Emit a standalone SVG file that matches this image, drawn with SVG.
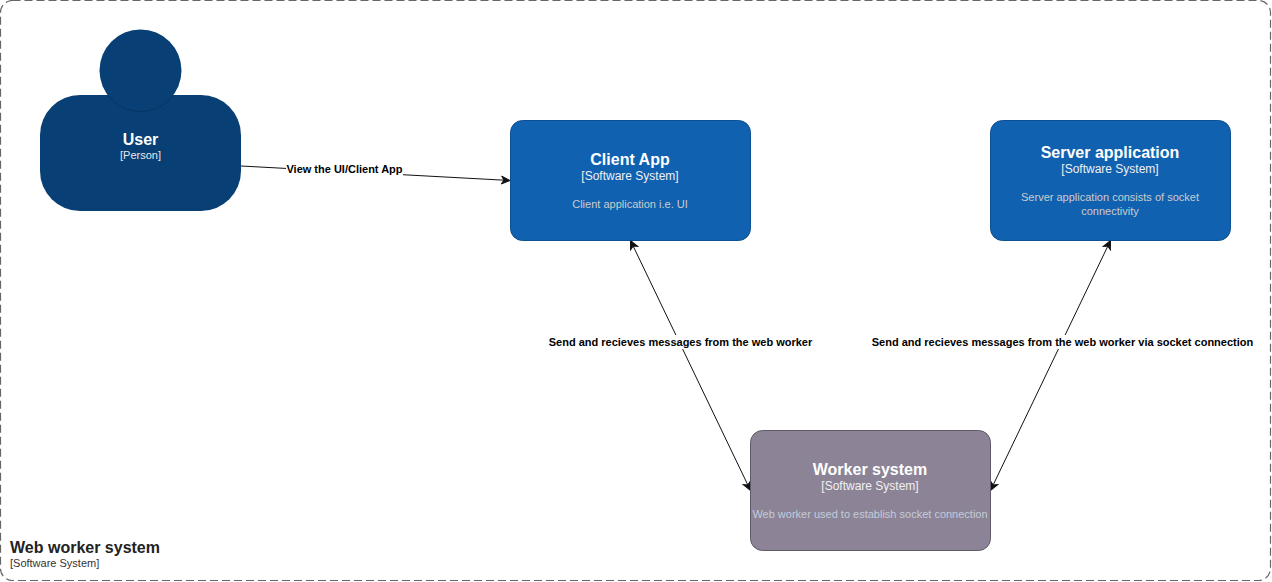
<svg xmlns="http://www.w3.org/2000/svg" width="1272" height="582" viewBox="0 0 1272 582">
<style>
text{font-family:"Liberation Sans",Arial,sans-serif;text-anchor:middle}
.t{font-size:16px;font-weight:bold;fill:#fff}
.s{font-size:12px;fill:#f0f0f0}
.d{font-size:11px;fill:#cccccc}
.l{font-size:11px;font-weight:bold;fill:#000}
.c{fill:none;stroke:#111;stroke-width:1}
.b{stroke:#0d5091;fill:#1061b0}
.lb{fill:#fff;stroke:none}
</style>
<defs>
<marker id="a" viewBox="0 0 10 10" refX="9.500" refY="5" markerWidth="10" markerHeight="9.500" orient="auto-start-reverse" markerUnits="userSpaceOnUse"><path d="M0.500 0.800L9.500 5L0.500 9.200L3 5Z" fill="#111" stroke="#111" stroke-width="1"/></marker>
</defs>
<rect width="1272" height="582" fill="#fff"/>
<g id="boundary">
<rect x="0.500" y="0.500" width="1270" height="580" rx="12" ry="12" fill="#fff" stroke="#666" stroke-width="1.200" stroke-dasharray="8 4"/>
<text x="10" y="553" style="text-anchor:start;font-size:16px;font-weight:bold;fill:#222">Web worker system</text>
<text x="10" y="567" style="text-anchor:start;font-size:11px;fill:#333">[Software System]</text>
</g>
<g id="connectors">
<path class="c" marker-end="url(#a)" d="M241 166L510 180.500"/>
<path class="c" marker-start="url(#a)" marker-end="url(#a)" d="M630.500 240.500L750.500 490.500"/>
<path class="c" marker-start="url(#a)" marker-end="url(#a)" d="M1110.500 240.500L990.500 490.500"/>
<rect class="lb" x="286" y="162" width="117" height="14"/>
<text class="l" x="344.500" y="173">View the UI/Client App</text>
<rect class="lb" x="548" y="335" width="265" height="14"/>
<text class="l" x="680.500" y="346">Send and recieves messages from the web worker</text>
<rect class="lb" x="871" y="335" width="383" height="14"/>
<text class="l" x="1062.500" y="346">Send and recieves messages from the web worker via socket connection</text>
</g>
<g id="user">
<rect x="40" y="95" width="201" height="116" rx="40" ry="40" fill="#083f75"/>
<circle cx="140.500" cy="70.500" r="41" fill="#083f75"/>
<path d="M107 94A41 41 0 0 0 174 94" fill="none" stroke="#000" stroke-opacity="0.7" stroke-width="0.700" stroke-dasharray="1 2"/>
<text class="t" x="140.500" y="145">User</text>
<text x="140.500" y="159" style="font-size:11px;fill:#e8e8e8">[Person]</text>
</g>
<g id="client-app">
<rect class="b" x="510.500" y="120.500" width="240" height="120" rx="12" ry="12"/>
<text class="t" x="630" y="165">Client App</text>
<text class="s" x="630" y="180">[Software System]</text>
<text class="d" x="630" y="208">Client application i.e. UI</text>
</g>
<g id="server-application">
<rect class="b" x="990.500" y="120.500" width="240" height="120" rx="12" ry="12"/>
<text class="t" x="1110" y="158">Server application</text>
<text class="s" x="1110" y="173">[Software System]</text>
<text class="d" x="1110" y="201">Server application consists of socket</text>
<text class="d" x="1110" y="215">connectivity</text>
</g>
<g id="worker-system">
<rect x="750.500" y="430.500" width="240" height="120" rx="12" ry="12" fill="#8c8496" stroke="#5f5a66"/>
<text class="t" x="870" y="475">Worker system</text>
<text class="s" x="870" y="490">[Software System]</text>
<text x="870" y="518" style="font-size:11px;fill:#c3cbdc">Web worker used to establish socket connection</text>
</g>
</svg>
